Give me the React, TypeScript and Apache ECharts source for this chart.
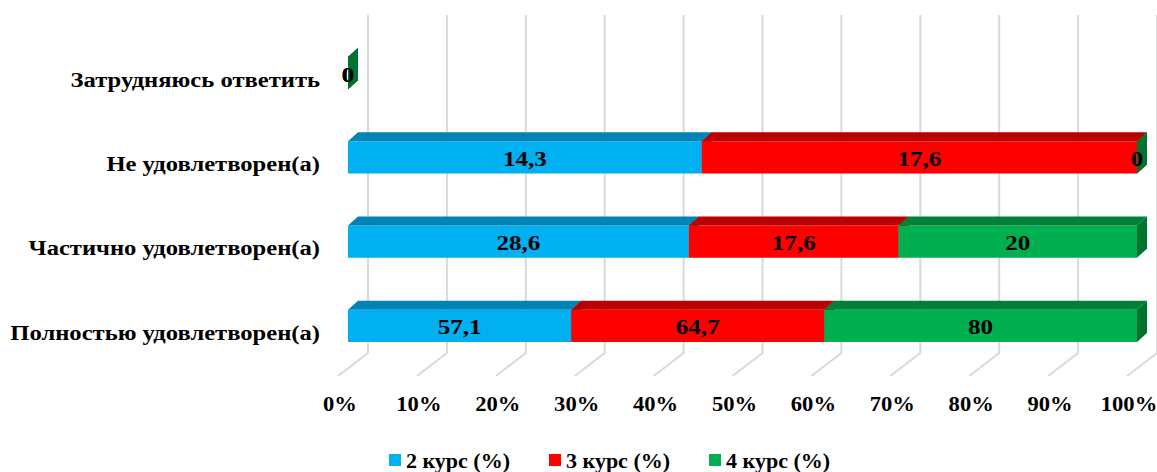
import React, { useEffect, useRef } from "react";
import * as echarts from "echarts";

const categories = [
  "Полностью удовлетворен(а)",
  "Частично удовлетворен(а)",
  "Не удовлетворен(а)",
  "Затрудняюсь ответить",
];
const course2 = [57.1, 28.6, 14.3, 0];
const course3 = [64.7, 17.6, 17.6, 0];
const course4 = [80, 20, 0, 0];
const seriesNames = ["2 курс (%)", "3 курс (%)", "4 курс (%)"];
const xTicks = [0, 10, 20, 30, 40, 50, 60, 70, 80, 90, 100];

const frontColors = ["#00B0F0", "#FF0000", "#00B050"];
const topColors = ["#0083B5", "#BA0000", "#008038"];
const sideColors = ["#00739E", "#A00000", "#00732F"];

const FONT = "'Liberation Serif', 'Times New Roman', serif";
const FRONT_DX = 10;
const DEPTH_X = 10;
const DEPTH_Y = 9;
const WALL_DX = 30;
const WALL_DY = 23;
const WALL_TOP = 15;

function buildSeriesData() {
  const all = [course2, course3, course4];
  const totals = categories.map((_, i) => all.reduce((s, arr) => s + arr[i], 0));
  const cum = categories.map(() => 0);
  return all.map((arr) =>
    arr.map((v, i) => {
      const pct = totals[i] > 0 ? (v / totals[i]) * 100 : 0;
      const start = cum[i];
      const end = start + pct;
      cum[i] = end;
      return [start, end, i, v];
    })
  );
}

function fmt(v: number) {
  return String(v).replace(".", ",");
}

function boldText(text: string, x: number, y: number, size: number, scaleX: number, align: string) {
  return {
    type: "text",
    x,
    y,
    scaleX,
    style: {
      text,
      align,
      verticalAlign: "middle",
      fontSize: size,
      fontWeight: "bold",
      fontFamily: FONT,
      fill: "#000",
    },
  };
}

export default function App() {
  const ref = useRef<HTMLDivElement>(null);
  useEffect(() => {
    if (!ref.current) return;
    const chart = echarts.init(ref.current, undefined, { renderer: "svg" });
    const data = buildSeriesData();

    const barSeries = data.map((d, s) => ({
      type: "custom",
      name: seriesNames[s],
      itemStyle: { color: frontColors[s] },
      encode: { x: [0, 1], y: 2 },
      data: d,
      z: 3,
      renderItem: (params: any, api: any) => {
        const start = api.value(0);
        const end = api.value(1);
        const cat = api.value(2);
        const raw = api.value(3);
        const p0 = api.coord([start, cat]);
        const p1 = api.coord([end, cat]);
        const bandH = api.size([0, 1])[1];
        const h = bandH * 0.38;
        const xs = p0[0] + FRONT_DX;
        const xe = p1[0] + FRONT_DX;
        const cy = p0[1] - 8;
        const top = cy - h / 2;
        const bot = cy + h / 2;
        return {
          type: "group",
          children: [
            {
              type: "rect",
              shape: { x: xs, y: top, width: Math.max(0, xe - xs), height: h },
              style: { fill: frontColors[s] },
            },
            {
              type: "polygon",
              shape: {
                points: [
                  [xs, top],
                  [xe, top],
                  [xe + DEPTH_X, top - DEPTH_Y],
                  [xs + DEPTH_X, top - DEPTH_Y],
                ],
              },
              style: { fill: topColors[s] },
            },
            {
              type: "polygon",
              shape: {
                points: [
                  [xe, top],
                  [xe + DEPTH_X, top - DEPTH_Y],
                  [xe + DEPTH_X, bot - DEPTH_Y],
                  [xe, bot],
                ],
              },
              style: { fill: sideColors[s] },
            },
            boldText(fmt(raw), (xs + xe) / 2, cy + 1, 22, 1.14, "center"),
          ],
        };
      },
    }));

    const gridSeries = {
      type: "custom",
      name: "grid",
      encode: { x: 0, y: 1 },
      data: xTicks.map((t) => [t, 0]),
      z: 1,
      silent: true,
      renderItem: (params: any, api: any) => {
        const cs = params.coordSys;
        const t = api.value(0);
        const p = api.coord([t, 0]);
        const yb = cs.y + cs.height;
        const x = p[0];
        return {
          type: "group",
          children: [
            {
              type: "polyline",
              shape: {
                points: [
                  [x + WALL_DX, WALL_TOP],
                  [x + WALL_DX, yb - WALL_DY],
                  [x, yb],
                ],
              },
              style: { stroke: "#D9D9D9", lineWidth: 2, fill: "none" },
            },
            boldText(t + "%", x + 2, yb + 28, 20, 1.13, "center"),
          ],
        };
      },
    };

    const catSeries = {
      type: "custom",
      name: "cats",
      encode: { x: 0, y: 1 },
      data: categories.map((_, i) => [0, i]),
      z: 2,
      silent: true,
      renderItem: (params: any, api: any) => {
        const cs = params.coordSys;
        const p = api.coord([0, api.value(1)]);
        return boldText(categories[params.dataIndex], cs.x - 18, p[1] - 1, 20, 1.23, "right");
      },
    };

    chart.setOption({
      animation: false,
      backgroundColor: "#fff",
      grid: { left: 338, right: 30, top: 39, bottom: 96 },
      xAxis: {
        type: "value",
        min: 0,
        max: 100,
        interval: 10,
        axisLine: { show: false },
        axisTick: { show: false },
        splitLine: { show: false },
        axisLabel: { show: false },
      },
      yAxis: {
        type: "category",
        data: categories,
        axisLine: { show: false },
        axisTick: { show: false },
        splitLine: { show: false },
        axisLabel: { show: false },
      },
      legend: {
        data: seriesNames,
        left: 389,
        top: 449,
        padding: 0,
        icon: "rect",
        itemWidth: 12,
        itemHeight: 12,
        itemGap: 39,
        textStyle: {
          fontSize: 22,
          lineHeight: 22,
          fontWeight: "bold",
          fontFamily: FONT,
          color: "#000",
        },
      },
      series: [gridSeries, catSeries, ...barSeries],
    });
    return () => chart.dispose();
  }, []);
  return (
    <div
      ref={ref}
      style={{ position: "fixed", left: 0, top: 0, width: 1157, height: 472 }}
    />
  );
}
